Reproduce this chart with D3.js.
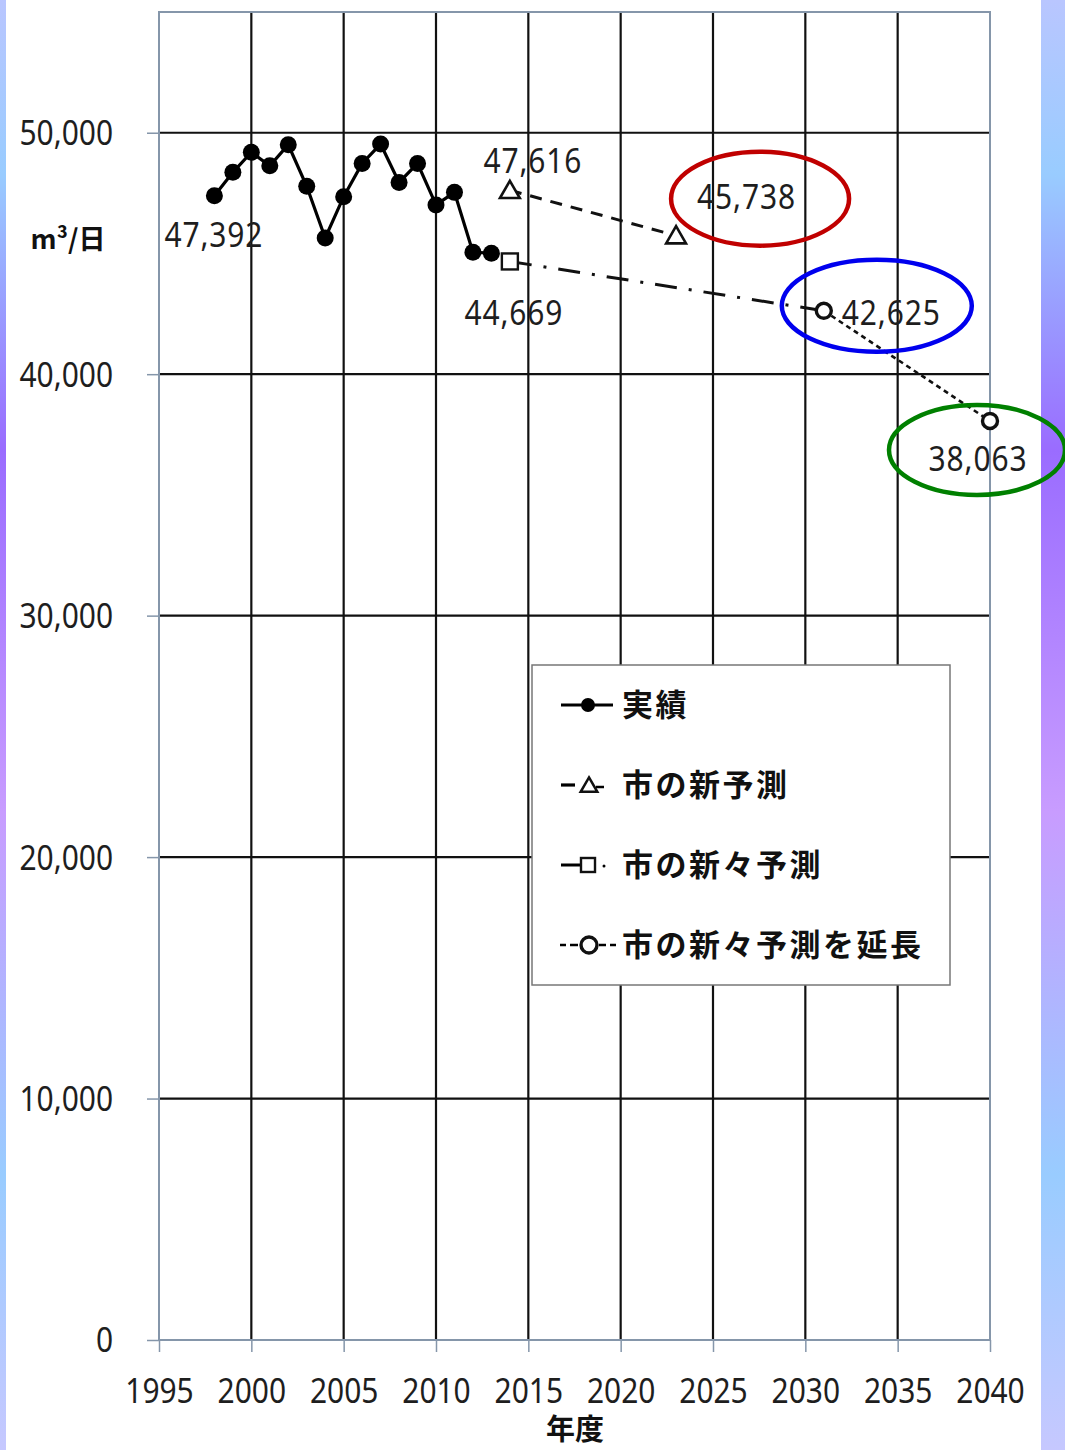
<!DOCTYPE html>
<html>
<head>
<meta charset="utf-8">
<script src="https://cdn.jsdelivr.net/npm/d3@7"></script>
<style>
  html, body { margin: 0; padding: 0; background: #fff; }
  svg { display: block; }
  .num { font-family: "Noto Sans", "Open Sans", sans-serif; fill: #1e1e1e; }
  .jp  { font-family: "Noto Sans CJK JP", sans-serif; font-weight: 700; fill: #111; }
</style>
</head>
<body>
<script>
// 一日当たり配水量の実績と予測（m³/日）
const actualYears  = [1998, 1999, 2000, 2001, 2002, 2003, 2004, 2005, 2006, 2007, 2008, 2009, 2010, 2011, 2012, 2013];
const actualValues = [47392, 48360, 49190, 48630, 49500, 47780, 45640, 47350, 48730, 49530, 47940, 48730, 47010, 47530, 45050, 45010];

const newForecastYears   = [2014, 2023];
const newForecastValues  = [47616, 45738];

const newerForecastYears  = [2014, 2031];
const newerForecastValues = [44669, 42625];

const extendedYears  = [2031, 2040];
const extendedValues = [42625, 38063];

const xTicks = [1995, 2000, 2005, 2010, 2015, 2020, 2025, 2030, 2035, 2040];
const yTicks = [0, 10000, 20000, 30000, 40000, 50000];

const legendLabels = ["実績", "市の新予測", "市の新々予測", "市の新々予測を延長"];
const yUnit = "m³/日";
const xTitle = "年度";

const W = 1065, H = 1450;
const svg = d3.select("body").append("svg").attr("width", W).attr("height", H);

// side strips
const defs = svg.append("defs");
const grad = defs.append("linearGradient").attr("id", "strip")
  .attr("x1", 0).attr("y1", 0).attr("x2", 0).attr("y2", 1);
[[0, "#b9c6ff"], [0.12, "#99ccff"], [0.31, "#9a6cff"], [0.56, "#c89cff"], [0.81, "#99ccff"], [1, "#c6c8ff"]]
  .forEach(([o, c]) => grad.append("stop").attr("offset", o).attr("stop-color", c));
svg.append("rect").attr("x", 0).attr("y", 0).attr("width", 6).attr("height", H).attr("fill", "url(#strip)");
svg.append("rect").attr("x", 1041).attr("y", 0).attr("width", 24).attr("height", H).attr("fill", "url(#strip)");

const x = d3.scaleLinear().domain([1995, 2040]).range([159, 990]);
const y = d3.scaleLinear().domain([0, 55000]).range([1340, 12]);

const fmt = d3.format(",");
const frameColor = "#8596aa";

// grid
const grid = svg.append("g");
grid.selectAll(".hg").data(yTicks.filter(v => v > 0)).join("line")
  .attr("x1", x(1995)).attr("x2", x(2040)).attr("y1", d => y(d)).attr("y2", d => y(d))
  .attr("stroke", "#111").attr("stroke-width", 2.2);
grid.selectAll(".vg").data(xTicks.slice(1, -1)).join("line")
  .attr("x1", d => x(d)).attr("x2", d => x(d)).attr("y1", y(55000)).attr("y2", y(0))
  .attr("stroke", "#111").attr("stroke-width", 2.2);
// frame
svg.append("rect").attr("x", x(1995)).attr("y", y(55000))
  .attr("width", x(2040) - x(1995)).attr("height", y(0) - y(55000))
  .attr("fill", "none").attr("stroke", frameColor).attr("stroke-width", 2);

// axes (ticks + labels)
const yAxis = svg.append("g").attr("transform", `translate(${x(1995)},0)`)
  .call(d3.axisLeft(y).tickValues(yTicks).tickSize(12).tickPadding(0).tickFormat(fmt));
yAxis.select(".domain").remove();
yAxis.selectAll(".tick line").attr("stroke", frameColor).attr("stroke-width", 1.5);
yAxis.selectAll(".tick text").attr("class", "num").attr("font-size", 34)
  .attr("text-anchor", "end").attr("dy", "0.35em")
  .attr("transform", "scale(0.88,1)")
  .attr("x", -46 / 0.88);

const xAxis = svg.append("g").attr("transform", `translate(0,${y(0)})`)
  .call(d3.axisBottom(x).tickValues(xTicks).tickSize(12).tickFormat(d3.format("d")));
xAxis.select(".domain").remove();
xAxis.selectAll(".tick line").attr("stroke", frameColor).attr("stroke-width", 1.5);
xAxis.selectAll(".tick text").attr("class", "num").attr("font-size", 34)
  .attr("y", 0).attr("dy", 0)
  .attr("transform", "translate(0,63) scale(0.88,1)");

// axis titles
svg.append("text").attr("class", "jp").attr("x", 68).attr("y", 249)
  .attr("text-anchor", "middle").attr("font-size", 27).text(yUnit);
svg.append("text").attr("class", "jp").attr("x", 575).attr("y", 1440)
  .attr("text-anchor", "middle").attr("font-size", 29).text(xTitle);

// series
const line = d3.line().x(d => x(d[0])).y(d => y(d[1]));
const zip = (a, b) => a.map((v, i) => [v, b[i]]);

const actual = zip(actualYears, actualValues);
const newF = zip(newForecastYears, newForecastValues);
const newerF = zip(newerForecastYears, newerForecastValues);
const extF = zip(extendedYears, extendedValues);

svg.append("path").datum(newF).attr("d", line).attr("fill", "none")
  .attr("stroke", "#111").attr("stroke-width", 3).attr("stroke-dasharray", "12 9");
svg.append("path").datum(newerF).attr("d", line).attr("fill", "none")
  .attr("stroke", "#111").attr("stroke-width", 3).attr("stroke-dasharray", "22 12 3 12");
svg.append("path").datum(extF).attr("d", line).attr("fill", "none")
  .attr("stroke", "#111").attr("stroke-width", 2.6).attr("stroke-dasharray", "5 4");
svg.append("path").datum(actual).attr("d", line).attr("fill", "none")
  .attr("stroke", "#000").attr("stroke-width", 3.2);

svg.selectAll(".pt").data(actual).join("circle")
  .attr("cx", d => x(d[0])).attr("cy", d => y(d[1])).attr("r", 8.5).attr("fill", "#000");

const tri = d3.symbol().type(d3.symbolTriangle).size(170);
svg.selectAll(".tri").data(newF).join("path")
  .attr("d", tri).attr("transform", d => `translate(${x(d[0])},${y(d[1]) + 2})`)
  .attr("fill", "#fff").attr("stroke", "#111").attr("stroke-width", 2.6);

svg.selectAll(".sq").data(newerF.slice(0, 1)).join("rect")
  .attr("x", d => x(d[0]) - 8).attr("y", d => y(d[1]) - 8).attr("width", 16).attr("height", 16)
  .attr("fill", "#fff").attr("stroke", "#111").attr("stroke-width", 2.4);

svg.selectAll(".oc").data(extF).join("circle")
  .attr("cx", d => x(d[0])).attr("cy", d => y(d[1])).attr("r", 7.5)
  .attr("fill", "#fff").attr("stroke", "#111").attr("stroke-width", 3.4);

// value labels
function label(px, py, text, anchor) {
  svg.append("text").attr("class", "num").attr("font-size", 34)
    .attr("text-anchor", anchor)
    .attr("transform", `translate(${px},${py}) scale(0.88,1)`)
    .attr("letter-spacing", 1).text(text);
}
label(x(actualYears[0]) - 50, y(actualValues[0]) + 51, fmt(actualValues[0]), "start");
label(x(newForecastYears[0]) + 23, y(newForecastValues[0]) - 17, fmt(newForecastValues[0]), "middle");
label(x(newForecastYears[1]) + 21, y(newForecastValues[1]) - 27, fmt(newForecastValues[1]), "start");
label(x(newerForecastYears[0]) + 4, y(newerForecastValues[0]) + 64, fmt(newerForecastValues[0]), "middle");
label(x(extendedYears[0]) + 18, y(extendedValues[0]) + 14, fmt(extendedValues[0]), "start");
label(x(extendedYears[1]) - 12, y(extendedValues[1]) + 50, fmt(extendedValues[1]), "middle");

// highlight rings around forecast values
const rings = [
  { cx: x(newForecastYears[1]) + 84, cy: y(newForecastValues[1]) - 37, rx: 89, ry: 47, c: "#c00000" },
  { cx: x(extendedYears[0]) + 53, cy: y(extendedValues[0]) - 5, rx: 95, ry: 46, c: "#0000ee" },
  { cx: x(extendedYears[1]) - 13, cy: y(extendedValues[1]) + 29, rx: 88, ry: 45, c: "#008000" }
];
svg.selectAll(".ring").data(rings).join("ellipse")
  .attr("cx", d => d.cx).attr("cy", d => d.cy).attr("rx", d => d.rx).attr("ry", d => d.ry)
  .attr("fill", "none").attr("stroke", d => d.c).attr("stroke-width", 4.5);

// legend
const lg = svg.append("g");
lg.append("rect").attr("x", 532).attr("y", 665).attr("width", 418).attr("height", 320)
  .attr("fill", "#fff").attr("stroke", "#777").attr("stroke-width", 1.5);
const rowY = i => 705 + i * 80;
legendLabels.forEach((t, i) => {
  lg.append("text").attr("class", "jp").attr("x", 622).attr("y", rowY(i) + 11)
    .attr("font-size", 31).attr("letter-spacing", 2.5).text(t);
});
// row 0: solid with filled dot
lg.append("line").attr("x1", 561).attr("x2", 613).attr("y1", rowY(0)).attr("y2", rowY(0))
  .attr("stroke", "#000").attr("stroke-width", 3);
lg.append("circle").attr("cx", 588).attr("cy", rowY(0)).attr("r", 7).attr("fill", "#000");
// row 1: dashed with triangle
lg.append("line").attr("x1", 561).attr("x2", 575).attr("y1", rowY(1)).attr("y2", rowY(1))
  .attr("stroke", "#000").attr("stroke-width", 3.2);
lg.append("line").attr("x1", 596).attr("x2", 604).attr("y1", rowY(1) + 2).attr("y2", rowY(1) + 2)
  .attr("stroke", "#000").attr("stroke-width", 2.5);
lg.append("path").attr("d", d3.symbol().type(d3.symbolTriangle).size(120))
  .attr("transform", `translate(589,${rowY(1) + 2})`)
  .attr("fill", "#fff").attr("stroke", "#111").attr("stroke-width", 2.5);
// row 2: dash-dot with square
lg.append("line").attr("x1", 561).attr("x2", 580).attr("y1", rowY(2)).attr("y2", rowY(2))
  .attr("stroke", "#000").attr("stroke-width", 3);
lg.append("rect").attr("x", 581).attr("y", rowY(2) - 7).attr("width", 14).attr("height", 14)
  .attr("fill", "#fff").attr("stroke", "#111").attr("stroke-width", 2.4);
lg.append("circle").attr("cx", 604).attr("cy", rowY(2) + 1).attr("r", 1.5).attr("fill", "#000");
// row 3: dotted with open circle
lg.append("line").attr("x1", 560).attr("x2", 566).attr("y1", rowY(3)).attr("y2", rowY(3))
  .attr("stroke", "#000").attr("stroke-width", 2.5);
lg.append("line").attr("x1", 570).attr("x2", 578).attr("y1", rowY(3)).attr("y2", rowY(3))
  .attr("stroke", "#000").attr("stroke-width", 2.5);
lg.append("line").attr("x1", 599).attr("x2", 606).attr("y1", rowY(3)).attr("y2", rowY(3))
  .attr("stroke", "#000").attr("stroke-width", 2.5);
lg.append("line").attr("x1", 610).attr("x2", 616).attr("y1", rowY(3)).attr("y2", rowY(3))
  .attr("stroke", "#000").attr("stroke-width", 2.5);
lg.append("circle").attr("cx", 589).attr("cy", rowY(3)).attr("r", 8)
  .attr("fill", "#fff").attr("stroke", "#111").attr("stroke-width", 3.4);
</script>
</body>
</html>
